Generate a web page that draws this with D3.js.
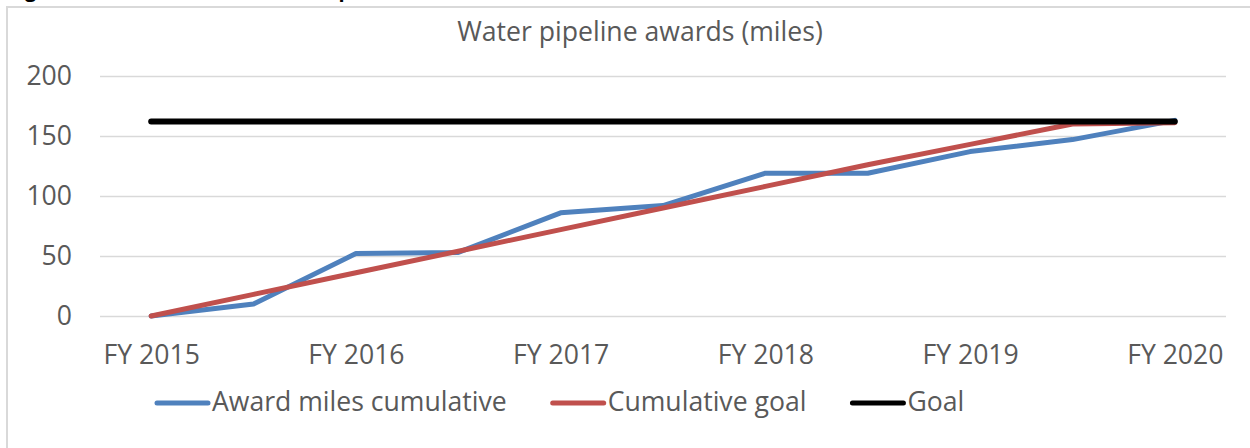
<!DOCTYPE html>
<html>
<head>
<meta charset="utf-8">
<script src="https://cdn.jsdelivr.net/npm/d3@7"></script>
<style>
  html, body { margin: 0; padding: 0; background: #fff; overflow: hidden; }
  svg { display: block; font-family: "Open Sans", sans-serif; }
</style>
</head>
<body>
<svg id="chart" width="1250" height="448"></svg>
<script>
// ---- data ----
const periods = ["FY 2015", "FY 2015 H2", "FY 2016", "FY 2016 H2", "FY 2017", "FY 2017 H2",
                 "FY 2018", "FY 2018 H2", "FY 2019", "FY 2019 H2", "FY 2020"];
const tickLabels = ["FY 2015", "FY 2016", "FY 2017", "FY 2018", "FY 2019", "FY 2020"];
const awardMiles = [0, 10, 52, 53, 86, 92, 119, 119, 137, 147, 163];
const cumulativeGoal = [0, 18, 36, 54, 72, 90, 108, 126, 143, 160, 161];
const goal = [162, 162, 162, 162, 162, 162, 162, 162, 162, 162, 162];
const yTicks = [0, 50, 100, 150, 200];
const seriesNames = ["Award miles cumulative", "Cumulative goal", "Goal"];
const seriesColors = ["#4f81bd", "#c0504d", "#000000"];
const chartTitle = "Water pipeline awards (miles)";
const captionText = "Figure 1: Cumulative awards compared to the schedule";

// ---- layout ----
const svg = d3.select("#chart");
const plot = { left: 100, right: 1226, top: 76, bottom: 316 };
const textColor = "#595959";
const gridColor = "#d9d9d9";
const fontSize = 26.6;

// cut-off caption at very top (only descenders visible, as in the reference)
svg.append("text")
  .attr("x", 8).attr("y", -3)
  .attr("font-size", 20).attr("font-weight", "bold")
  .attr("fill", "#000")
  .text(captionText);

// chart frame (extends past window)
svg.append("rect")
  .attr("x", 7).attr("y", 7)
  .attr("width", 1400).attr("height", 600)
  .attr("fill", "none").attr("stroke", gridColor).attr("stroke-width", 2);

// title
svg.append("text")
  .attr("x", 640).attr("y", 41)
  .attr("text-anchor", "middle")
  .attr("font-size", fontSize).attr("fill", textColor)
  .text(chartTitle);

// scales
const x = d3.scalePoint().domain(d3.range(periods.length))
  .range([plot.left, plot.right]).padding(0.5);
const y = d3.scaleLinear().domain([0, 200]).range([plot.bottom, plot.top]);

// y axis + gridlines
const yAxis = d3.axisLeft(y).tickValues(yTicks)
  .tickSize(-(plot.right - plot.left)).tickPadding(28);
const yg = svg.append("g").attr("transform", `translate(${plot.left},0)`).call(yAxis);
yg.select(".domain").remove();
yg.selectAll(".tick line").attr("stroke", gridColor).attr("stroke-width", 1.5);
yg.selectAll(".tick text").attr("fill", textColor).attr("font-size", fontSize)
  .attr("font-family", "Open Sans");

// x axis
const labelIdx = periods.map((p, i) => i).filter(i => tickLabels.includes(periods[i]));
const xAxis = d3.axisBottom(x).tickValues(labelIdx)
  .tickFormat(i => periods[i]).tickSize(0).tickPadding(29);
const xg = svg.append("g").attr("transform", `translate(0,${plot.bottom})`).call(xAxis);
xg.select(".domain").remove();
xg.selectAll(".tick text").attr("fill", textColor).attr("font-size", fontSize)
  .attr("font-family", "Open Sans");

// lines
const line = d3.line().x((d, i) => x(i)).y(d => y(d));
const allSeries = [awardMiles, cumulativeGoal, goal];
const widths = [5, 5, 6];
allSeries.forEach((s, k) => {
  svg.append("path")
    .datum(s)
    .attr("d", line)
    .attr("fill", "none")
    .attr("stroke", seriesColors[k])
    .attr("stroke-width", widths[k])
    .attr("stroke-linejoin", "round")
    .attr("stroke-linecap", "round");
});

// legend
const legend = svg.append("g");
let lx = 157;
const ly = 403;
seriesNames.forEach((name, k) => {
  legend.append("line")
    .attr("x1", lx).attr("x2", lx + 51)
    .attr("y1", ly).attr("y2", ly)
    .attr("stroke", seriesColors[k]).attr("stroke-width", 5)
    .attr("stroke-linecap", "round");
  const t = legend.append("text")
    .attr("x", lx + 55).attr("y", ly + 8)
    .attr("font-size", fontSize).attr("fill", textColor)
    .text(name);
  lx += 55 + t.node().getComputedTextLength() + 46;
});
</script>
</body>
</html>
